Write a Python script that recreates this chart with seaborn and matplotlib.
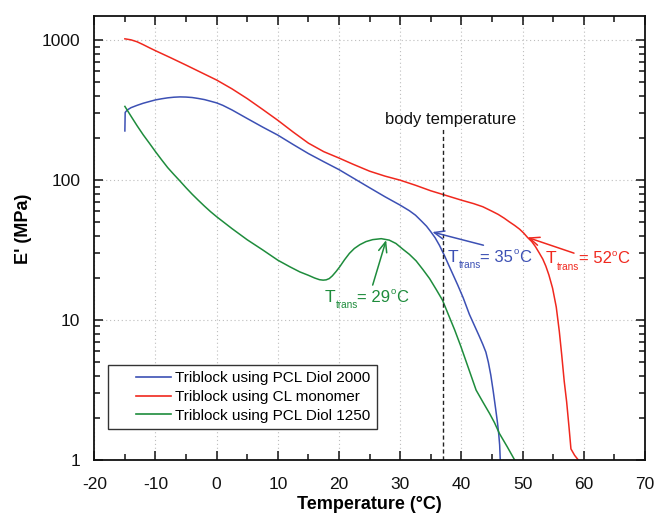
import numpy as np
import pandas as pd
import matplotlib
matplotlib.use("Agg")
import matplotlib.pyplot as plt
import seaborn as sns
from matplotlib.lines import Line2D
from matplotlib.legend_handler import HandlerLine2D
from matplotlib.ticker import MultipleLocator, LogLocator, FixedLocator, FixedFormatter, NullFormatter

# ---------------- data ----------------
diol2000_T = [-15.0, -14.95, -14.6, -14.0, -13.0, -12.0, -11.0, -10.0, -9.0, -8.0, -7.0, -6.0,
              -5.0, -4.0, -3.0, -2.0, -1.0, 0.0, 1.0, 2.5, 5.0, 7.5, 10.0, 12.5, 15.0, 17.5,
              20.0, 22.5, 25.0, 27.5, 30.0, 31.5, 32.5, 33.5, 34.3, 35.0, 35.7, 36.4, 37.2,
              38.0, 38.7, 39.4, 40.3, 41.3, 42.1, 42.9, 43.5, 44.0, 44.4, 44.8, 45.2, 45.6,
              45.9, 46.1, 46.25, 46.35]
diol2000_E = [225, 305, 318, 330, 343, 355, 365, 375, 382, 388, 392, 394,
              393, 390, 384, 377, 367, 357, 343, 318, 276, 240, 210, 180, 155, 135.6,
              119, 102.5, 88.3, 76.2, 66.3, 60.5, 56.2, 50.9, 46.9, 42.8, 38.8, 34.3, 29.1,
              24.3, 20.8, 17.8, 14.4, 11.0, 9.2, 7.7, 6.7, 5.9, 5.0, 4.05, 3.1, 2.31,
              1.84, 1.53, 1.28, 1.0]

cl_T = [-15.0, -14.0, -13.0, -12.0, -11.0, -10.0, -7.5, -5.0, -2.5, 0.0, 2.5, 5.0,
        7.5, 10.0, 12.5, 15.0, 17.5, 20.0, 22.3, 25.0, 27.5, 30.0, 32.5, 35.0, 37.0, 40.0,
        42.0, 43.5, 45.0, 46.0, 47.0, 47.8, 48.7, 49.5, 50.2, 50.8, 51.5, 52.1, 52.7, 53.3,
        53.8, 54.3, 54.9, 55.5, 56.0, 56.4, 56.8, 57.2, 57.6, 57.9, 58.5, 59.1]
cl_E = [1025, 1008, 976, 931, 885, 843, 750, 665, 588, 520, 450, 383,
        321, 268, 221, 184, 160, 144, 130, 116, 107, 100, 92, 84, 79, 72,
        68, 64.6, 60, 57, 53.5, 50.5, 47.5, 44.7, 41.8, 39, 36.4, 33.5, 30.3, 27.3,
        24.3, 21.0, 16.9, 12.4, 8.3, 5.6, 3.66, 2.6, 1.69, 1.2, 1.08, 1.0]

diol1250_T = [-15.0, -14.0, -13.0, -12.0, -11.0, -10.0, -9.0, -8.0, -7.0, -6.0, -5.0, -4.0,
              -3.0, -2.0, -1.0, 0.0, 2.5, 5.0, 7.5, 10.0, 12.0, 13.6, 15.0, 16.0, 16.8, 17.4,
              17.9, 18.4, 18.9, 19.5, 20.1, 20.9, 21.7, 22.5, 23.4, 24.4, 25.5, 26.9, 28.2,
              29.3, 30.4, 31.5, 32.6, 33.7, 34.8, 35.9, 36.9, 38.0, 38.9, 39.9, 41.1, 42.4,
              43.5, 44.6, 45.4, 46.2, 47.5, 48.7]
diol1250_E = [337, 287, 245, 211, 184, 160, 140, 123, 110, 98.7, 88.3, 79.4,
              71.9, 65.3, 59.6, 54.8, 45.1, 37.5, 31.8, 26.8, 24.0, 22.1, 20.9, 20.0, 19.45, 19.3,
              19.4, 19.8, 20.7, 22.2, 24, 27, 30, 32.5, 34.6, 36.4, 37.6, 38.2, 37.3,
              35.3, 32.2, 29.5, 26.5, 23, 19.8, 16.5, 13.9, 10.6, 8.5, 6.5, 4.6, 3.16,
              2.6, 2.15, 1.85, 1.55, 1.24, 1.0]

series_labels = ["Triblock using PCL Diol 2000",
                 "Triblock using CL monomer",
                 "Triblock using PCL Diol 1250"]
colors = ["#3c50b4", "#f0281e", "#1e8c3c"]

x_ticks = [-20, -10, 0, 10, 20, 30, 40, 50, 60, 70]
y_ticks = [1, 10, 100, 1000]
y_tick_labels = ["1", "10", "100", "1000"]

body_temp = 37
body_temp_top = 235
trans_temps = ["35", "52", "29"]
# arrow tips (on curve) and arrow tails, text anchors (left/baseline of "T")
arrow_tips = [(35.25, 42.6), (50.8, 39.0), (27.7, 37.3)]
arrow_tails = [(43.6, 34.3), (58.4, 30.1), (25.5, 17.8)]
text_pos = [(37.75, 26.1), (53.8, 25.4), (17.64, 13.5)]

# ---------------- build dataframe ----------------
df = pd.concat([
    pd.DataFrame({"T": diol2000_T, "E": diol2000_E, "series": series_labels[0]}),
    pd.DataFrame({"T": cl_T, "E": cl_E, "series": series_labels[1]}),
    pd.DataFrame({"T": diol1250_T, "E": diol1250_E, "series": series_labels[2]}),
], ignore_index=True)

# ---------------- style ----------------
plt.rcParams["font.family"] = ["Liberation Sans", "DejaVu Sans"]
plt.rcParams["axes.unicode_minus"] = False

fig = plt.figure(figsize=(6.57, 5.23), dpi=100)
ax = fig.add_axes([0.1435, 0.1205, 0.8382, 0.8495])
ax.set_yscale("log")

sns.lineplot(data=df, x="T", y="E", hue="series", hue_order=series_labels,
             palette=colors, estimator=None, sort=False, legend=False,
             linewidth=1.1, ax=ax)

ax.set_xlim(-20, 70)
ax.set_ylim(1, 1500)

ax.xaxis.set_major_locator(FixedLocator(x_ticks))
ax.xaxis.set_minor_locator(MultipleLocator(5))
ax.yaxis.set_major_locator(FixedLocator(y_ticks))
ax.yaxis.set_major_formatter(FixedFormatter(y_tick_labels))
ax.yaxis.set_minor_locator(LogLocator(base=10, subs=np.arange(2, 10)))
ax.yaxis.set_minor_formatter(NullFormatter())

ax.tick_params(which="both", direction="in", top=True, right=True, colors="#111111",
               labelsize=12.5)
ax.tick_params(which="major", length=6.5, width=1.1)
ax.tick_params(which="minor", length=4, width=1.1)
ax.tick_params(axis="x", which="major", pad=12)
ax.tick_params(axis="y", which="major", pad=10)
for s in ax.spines.values():
    s.set_linewidth(1.3)
    s.set_color("#111111")

ax.grid(True, which="major", linestyle=(0, (1, 2.5)), color="#bdbdbd", linewidth=0.8)
ax.set_axisbelow(True)

ax.set_xlabel("Temperature (°C)", fontsize=13, fontweight="bold")
ax.set_ylabel("E' (MPa)", fontsize=13, fontweight="bold")
ax.xaxis.set_label_coords(0.5, -0.081)
ax.yaxis.set_label_coords(-0.1137, 0.52)

# body temperature line
ax.plot([body_temp, body_temp], [1, body_temp_top], color="#222222", linewidth=1.0,
        linestyle=(0, (3, 2)))
ax.text(38.2, 254, "body temperature", fontsize=12, ha="center", va="baseline", color="#111111")


def trans_label(x, y, temp, color):
    base = dict(xy=(x, y), xycoords="data", textcoords="offset points",
                color=color, va="baseline", ha="left")
    ax.annotate("T", xytext=(0, 0), fontsize=12.5, **base)
    ax.annotate("trans", xytext=(8.2, -4.5), fontsize=7.2, **base)
    ax.annotate("= " + temp, xytext=(23.6, 0), fontsize=12, **base)
    ax.annotate("o", xytext=(47.5, 5.5), fontsize=6.8, **base)
    ax.annotate("C", xytext=(51.4, 0), fontsize=12, **base)


# transition annotations
for tt, tip, tail, tp, c in zip(trans_temps, arrow_tips, arrow_tails, text_pos, colors):
    ax.annotate("", xy=tip, xytext=tail,
                arrowprops=dict(arrowstyle="->,head_length=0.6,head_width=0.25",
                                color=c, lw=1.1, shrinkA=0, shrinkB=0, mutation_scale=12))
    trans_label(tp[0], tp[1], tt, c)


# legend
class OffsetLineHandler(HandlerLine2D):
    def __init__(self, frac, **kw):
        super().__init__(**kw)
        self.frac = frac

    def get_xdata(self, legend, xdescent, ydescent, width, height, fontsize):
        xd, xm = super().get_xdata(legend, xdescent, ydescent, width, height, fontsize)
        xd = np.asarray(xd, dtype=float).copy()
        xd[0] = xd[0] + self.frac * (xd[-1] - xd[0])
        return xd, xm


handles = [Line2D([0], [0], color=c, linewidth=1.2) for c in colors]
leg = ax.legend(handles, series_labels, loc="lower left", bbox_to_anchor=(0.025, 0.07),
                borderaxespad=0, fontsize=11, handlelength=3.73, handletextpad=0.26,
                borderpad=0.41, labelspacing=0.3, fancybox=False, framealpha=1,
                edgecolor="#333333", handler_map={Line2D: OffsetLineHandler(0.386)})
leg.get_frame().set_linewidth(1.0)

fig.savefig("out.png", dpi=100)
